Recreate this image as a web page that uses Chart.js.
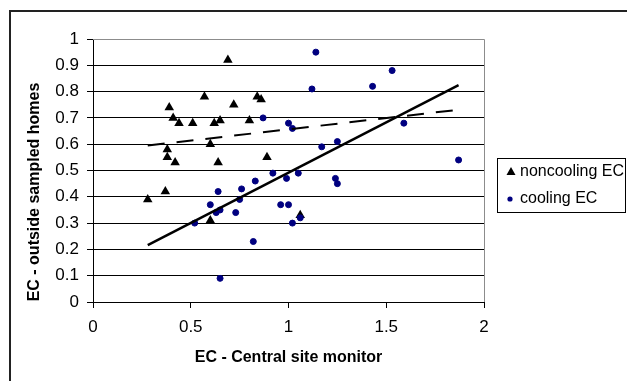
<!DOCTYPE html>
<html>
<head>
<meta charset="utf-8">
<script src="https://cdn.jsdelivr.net/npm/chart.js@4.4.1/dist/chart.umd.min.js"></script>
<style>
  html, body { margin: 0; padding: 0; background: #fff; }
  #wrap { width: 627px; height: 381px; position: relative; }
</style>
</head>
<body>
<div id="wrap"><canvas id="c" width="627" height="381"></canvas></div>
<script>
// ---- data ----
const seriesNames = ['noncooling EC', 'cooling EC'];
const xTitle = 'EC - Central site monitor';
const yTitle = 'EC - outside sampled homes';
const xTicks = [0, 0.5, 1, 1.5, 2];
const yTicks = [0, 0.1, 0.2, 0.3, 0.4, 0.5, 0.6, 0.7, 0.8, 0.9, 1];

const noncoolingX = [0.69, 0.57, 0.39, 0.41, 0.44, 0.51, 0.62, 0.65, 0.72, 0.80, 0.84, 0.86, 0.38, 0.60, 0.38, 0.42, 0.64, 0.89, 0.28, 0.37, 0.60, 1.06];
const noncoolingY = [0.92, 0.78, 0.74, 0.70, 0.68, 0.68, 0.68, 0.69, 0.75, 0.69, 0.78, 0.77, 0.58, 0.60, 0.55, 0.53, 0.53, 0.55, 0.39, 0.42, 0.31, 0.33];

const coolingX = [0.87, 1.00, 1.02, 1.14, 1.12, 1.43, 1.53, 1.59, 1.17, 1.25, 1.87, 0.52, 0.60, 0.64, 0.63, 0.65, 0.73, 0.75, 0.76, 0.83, 0.82, 0.65, 0.92, 0.96, 1.00, 0.99, 1.02, 1.05, 1.06, 1.24, 1.25];
const coolingY = [0.70, 0.68, 0.66, 0.95, 0.81, 0.82, 0.88, 0.68, 0.59, 0.61, 0.54, 0.30, 0.37, 0.42, 0.34, 0.35, 0.34, 0.39, 0.43, 0.46, 0.23, 0.09, 0.49, 0.37, 0.37, 0.47, 0.30, 0.49, 0.32, 0.47, 0.45];

// trend lines (end points)
const coolingTrendX = [0.28, 1.87];
const coolingTrendY = [0.216, 0.825];
const noncoolingTrendX = [0.28, 1.87];
const noncoolingTrendY = [0.595, 0.731];

const toPts = (xs, ys) => xs.map((x, i) => ({ x: x, y: ys[i] }));

const FONT = "'Liberation Sans', Arial, sans-serif";
const NAVY = '#000080';

const decorPlugin = {
  id: 'decor',
  beforeDraw(chart) {
    const ctx = chart.ctx;
    ctx.save();
    ctx.fillStyle = '#fff';
    ctx.fillRect(0, 0, chart.width, chart.height);
    ctx.restore();
  },
  beforeDatasetsDraw(chart) {
    const ctx = chart.ctx, a = chart.chartArea;
    ctx.save();
    ctx.strokeStyle = '#8c8c8c';
    ctx.lineWidth = 1;
    ctx.beginPath();
    ctx.moveTo(a.left, a.top + 0.5);
    ctx.lineTo(a.right + 0.5, a.top + 0.5);
    ctx.lineTo(a.right + 0.5, a.bottom);
    ctx.stroke();
    ctx.restore();
  },
  afterDraw(chart) {
    const ctx = chart.ctx, a = chart.chartArea;
    ctx.save();
    // outer frame
    ctx.strokeStyle = '#222';
    ctx.lineWidth = 2;
    ctx.beginPath();
    ctx.moveTo(10, chart.height);
    ctx.lineTo(10, 11);
    ctx.lineTo(chart.width, 11);
    ctx.stroke();

    // axis titles
    ctx.fillStyle = '#000';
    ctx.font = "bold 16px " + FONT;
    ctx.textAlign = 'center';
    ctx.textBaseline = 'middle';
    ctx.fillText(xTitle, (a.left + a.right) / 2, 358);
    ctx.save();
    ctx.translate(35, 192);
    ctx.rotate(-Math.PI / 2);
    ctx.fillText(yTitle, 0, 0);
    ctx.restore();

    // legend box
    const bx = 497, by = 158, bw = 128, bh = 54;
    ctx.strokeStyle = '#000';
    ctx.lineWidth = 1;
    ctx.strokeRect(bx + 0.5, by + 0.5, bw, bh);
    ctx.font = "16px " + FONT;
    ctx.textAlign = 'left';
    ctx.textBaseline = 'middle';
    const ds = chart.data.datasets;
    // item 1: triangle
    const y1 = 172, y2 = 199;
    ctx.fillStyle = '#000';
    ctx.beginPath();
    ctx.moveTo(511, y1 - 5);
    ctx.lineTo(515.5, y1 + 3);
    ctx.lineTo(506.5, y1 + 3);
    ctx.closePath();
    ctx.fill();
    ctx.fillText(ds[0].label, 520, y1);
    // item 2: circle
    ctx.fillStyle = NAVY;
    ctx.beginPath();
    ctx.arc(510, y2, 2.6, 0, Math.PI * 2);
    ctx.fill();
    ctx.fillStyle = '#000';
    ctx.fillText(ds[1].label, 520, y2);
    ctx.restore();
  }
};

new Chart(document.getElementById('c'), {
  type: 'scatter',
  data: {
    datasets: [
      {
        label: seriesNames[0],
        data: toPts(noncoolingX, noncoolingY),
        pointStyle: 'triangle',
        pointRadius: 5.5,
        pointBackgroundColor: '#000',
        pointBorderColor: '#000',
        pointBorderWidth: 0,
        order: 3
      },
      {
        label: seriesNames[1],
        data: toPts(coolingX, coolingY),
        pointStyle: 'circle',
        pointRadius: 3,
        pointBackgroundColor: NAVY,
        pointBorderColor: NAVY,
        pointBorderWidth: 1,
        order: 2
      },
      {
        label: 'noncooling trend',
        type: 'line',
        data: toPts(noncoolingTrendX, noncoolingTrendY),
        borderColor: '#000',
        borderWidth: 2,
        borderDash: [17, 12],
        pointRadius: 0,
        fill: false,
        order: 1
      },
      {
        label: 'cooling trend',
        type: 'line',
        data: toPts(coolingTrendX, coolingTrendY),
        borderColor: '#000',
        borderWidth: 2.5,
        pointRadius: 0,
        fill: false,
        order: 0
      }
    ]
  },
  options: {
    responsive: false,
    animation: false,
    devicePixelRatio: 1,
    layout: { padding: { left: 0, top: 39, right: 143, bottom: 0 } },
    plugins: {
      legend: { display: false },
      tooltip: { enabled: false },
      title: { display: false }
    },
    scales: {
      x: {
        type: 'linear',
        min: 0, max: 2,
        afterBuildTicks: (s) => { s.ticks = xTicks.map(v => ({ value: v })); },
        afterFit: (s) => { s.height = 79; },
        ticks: {
          color: '#000',
          font: { family: FONT, size: 17 },
          padding: 9,
          maxRotation: 0,
          callback: (v) => String(v)
        },
        grid: {
          drawOnChartArea: false,
          tickLength: 6,
          tickColor: '#000',
          color: '#000'
        },
        border: { color: '#000', width: 1 }
      },
      y: {
        type: 'linear',
        min: 0, max: 1,
        afterBuildTicks: (s) => { s.ticks = yTicks.map(v => ({ value: v })); },
        afterFit: (s) => { s.width = 93; },
        ticks: {
          color: '#000',
          font: { family: FONT, size: 17 },
          padding: 8,
          callback: (v) => String(Math.round(v * 10) / 10)
        },
        grid: {
          tickLength: 6,
          tickColor: '#000',
          lineWidth: 1,
          color: (ctx) => (ctx.tick && ctx.tick.value === 1) ? '#8c8c8c' : '#000'
        },
        border: { color: '#000', width: 1 }
      }
    }
  },
  plugins: [decorPlugin]
});
</script>
</body>
</html>
